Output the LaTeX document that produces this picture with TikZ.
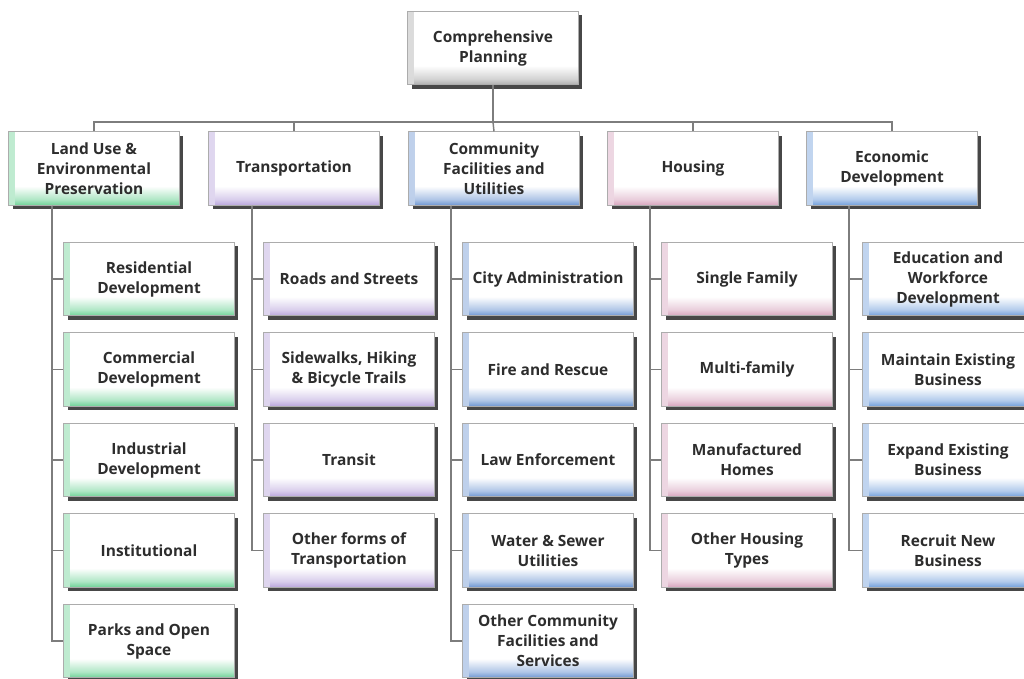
\documentclass[tikz,border=0pt]{standalone}
\usepackage{fontspec}
\setmainfont{Open Sans}
\usetikzlibrary{shadows,fadings}
\definecolor{landtint}{RGB}{110,210,150}
\definecolor{transtint}{RGB}{185,165,220}
\definecolor{commtint}{RGB}{110,150,210}
\definecolor{housetint}{RGB}{215,165,190}
\definecolor{econtint}{RGB}{115,160,220}
\definecolor{planttint}{RGB}{175,175,175}
\definecolor{linkgray}{RGB}{125,125,125}
\definecolor{textgray}{RGB}{45,45,45}
\colorlet{boxtint}{white}
\pgfdeclareverticalshading[boxtint]{boxshade}{100bp}{color(0bp)=(boxtint); color(25bp)=(boxtint); color(29bp)=(boxtint!55!white); color(38bp)=(white); color(100bp)=(white)}
\tikzset{
  box/.style={draw=gray!65, line width=0.6pt, rectangle, align=center,
    minimum width=128pt, minimum height=55pt, inner sep=1pt,
    font=\bfseries\fontsize{11.6}{15}\selectfont, text=textgray,
    /utils/exec={\colorlet{boxtint}{#1}}, shading=boxshade,
    path picture={\fill[#1!45, path fading=east]
      (path picture bounding box.south west) rectangle
      ([xshift=5pt]path picture bounding box.north west);},
    drop shadow={shadow xshift=3pt, shadow yshift=-3pt, fill=black!80, opacity=0.9}},
  link/.style={draw=linkgray, line width=1.1pt}
}
\begin{document}
\begin{tikzpicture}[x=0.75pt,y=-0.75pt]
  \useasboundingbox (0,0) rectangle (1024,678);
  % top
  \node[box=planttint] (plan) at (493,48) {Comprehensive\\Planning};
  % categories
  \node[box=landtint] (land) at (94,168.5) {Land Use \&\\Environmental\\Preservation};
  \node[box=transtint] (trans) at (294,168.5) {Transportation};
  \node[box=commtint] (comm) at (494,168.5) {Community\\Facilities and\\Utilities};
  \node[box=housetint] (house) at (693,168.5) {Housing};
  \node[box=econtint] (econ) at (892,168.5) {Economic\\Development};
  % land use
  \node[box=landtint] (land1) at (149,279) {Residential\\Development};
  \node[box=landtint] (land2) at (149,369.5) {Commercial\\Development};
  \node[box=landtint] (land3) at (149,460) {Industrial\\Development};
  \node[box=landtint] (land4) at (149,550.5) {Institutional};
  \node[box=landtint] (land5) at (149,641) {Parks and Open\\Space};
  % transportation
  \node[box=transtint] (trans1) at (349,279) {Roads and Streets};
  \node[box=transtint] (trans2) at (349,369.5) {Sidewalks, Hiking\\\& Bicycle Trails};
  \node[box=transtint] (trans3) at (349,460) {Transit};
  \node[box=transtint] (trans4) at (349,550.5) {Other forms of\\Transportation};
  % community facilities
  \node[box=commtint] (comm1) at (548,279) {City Administration};
  \node[box=commtint] (comm2) at (548,369.5) {Fire and Rescue};
  \node[box=commtint] (comm3) at (548,460) {Law Enforcement};
  \node[box=commtint] (comm4) at (548,550.5) {Water \& Sewer\\Utilities};
  \node[box=commtint] (comm5) at (548,641) {Other Community\\Facilities and\\Services};
  % housing
  \node[box=housetint] (house1) at (747,279) {Single Family};
  \node[box=housetint] (house2) at (747,369.5) {Multi-family};
  \node[box=housetint] (house3) at (747,460) {Manufactured\\Homes};
  \node[box=housetint] (house4) at (747,550.5) {Other Housing\\Types};
  % economic development
  \node[box=econtint] (econ1) at (948,279) {Education and\\Workforce\\Development};
  \node[box=econtint] (econ2) at (948,369.5) {Maintain Existing\\Business};
  \node[box=econtint] (econ3) at (948,460) {Expand Existing\\Business};
  \node[box=econtint] (econ4) at (948,550.5) {Recruit New\\Business};
  % buses
  \coordinate (bus) at (493,122);
  \coordinate (landbus) at (52,205.5);
  \coordinate (transbus) at (252,205.5);
  \coordinate (commbus) at (451,205.5);
  \coordinate (housebus) at (650,205.5);
  \coordinate (econbus) at (849,205.5);
  \begin{scope}[link]
    \draw (plan.south) -- (bus);
    \draw (land.north) |- (bus);
    \draw (trans.north) |- (bus);
    \draw (comm.north) -- (bus);
    \draw (house.north) |- (bus);
    \draw (econ.north) |- (bus);
    \draw (landbus) |- (land1.west);
    \draw (landbus) |- (land2.west);
    \draw (landbus) |- (land3.west);
    \draw (landbus) |- (land4.west);
    \draw (landbus) |- (land5.west);
    \draw (transbus) |- (trans1.west);
    \draw (transbus) |- (trans2.west);
    \draw (transbus) |- (trans3.west);
    \draw (transbus) |- (trans4.west);
    \draw (commbus) |- (comm1.west);
    \draw (commbus) |- (comm2.west);
    \draw (commbus) |- (comm3.west);
    \draw (commbus) |- (comm4.west);
    \draw (commbus) |- (comm5.west);
    \draw (housebus) |- (house1.west);
    \draw (housebus) |- (house2.west);
    \draw (housebus) |- (house3.west);
    \draw (housebus) |- (house4.west);
    \draw (econbus) |- (econ1.west);
    \draw (econbus) |- (econ2.west);
    \draw (econbus) |- (econ3.west);
    \draw (econbus) |- (econ4.west);
  \end{scope}
\end{tikzpicture}
\end{document}
